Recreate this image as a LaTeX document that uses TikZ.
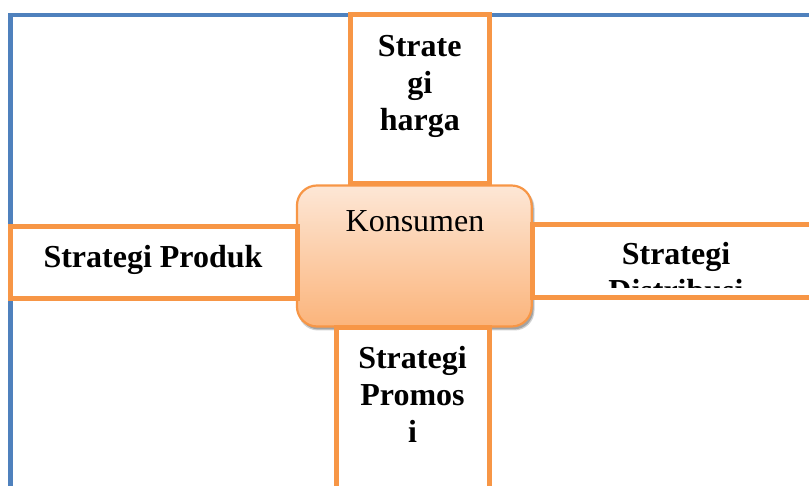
\documentclass[tikz,border=0pt]{standalone}
\usepackage{fontspec}
\setmainfont{Liberation Serif}
\definecolor{frameblue}{HTML}{4F81BD}
\definecolor{accorange}{HTML}{F79646}
\definecolor{ktop}{HTML}{FDE7D6}
\definecolor{kbottom}{HTML}{FBB47B}
\begin{document}
\begin{tikzpicture}[x=1pt,y=-1pt,
  frameline/.style={draw=frameblue, line width=4.5pt, line join=miter},
  stratbox/.style={draw=accorange, fill=white, line width=5pt, rectangle, inner sep=0pt},
  centerbox/.style={draw=accorange, line width=2.2pt, rectangle, rounded corners=20pt,
    top color=ktop, bottom color=kbottom, inner sep=0pt,
    minimum width=234.7pt, minimum height=141pt},
  strattext/.style={anchor=base, inner sep=0pt, font=\fontsize{32}{37}\selectfont\bfseries},
  centertext/.style={anchor=base, inner sep=0pt, font=\fontsize{32}{37}\selectfont},
]
\useasboundingbox (0,0) rectangle (809,486);
\clip (0,0) rectangle (809,486);

% outer frame (only its top and left sides fall inside the picture)
\draw[frameline] (10.5,520) -- (10.5,15) -- (840,15);

% soft shadow under the central box
\fill[black, opacity=.18, rounded corners=20pt] (298,188) rectangle (534.5,330.5);
\fill[black, opacity=.22, rounded corners=20pt] (299,188) rectangle (533.5,329.5);

% central box
\node[centerbox] (konsumen) at (414.3,256) {};
\node[centertext] (konsumenText) at (415,232) {Konsumen};

% four strategy boxes
\node[stratbox, minimum width=138.5pt, minimum height=169pt] (harga) at (419.75,99.5) {};
\node[stratbox, minimum width=287pt, minimum height=72.3pt] (produk) at (154,262.85) {};
\node[stratbox, minimum width=286.5pt, minimum height=73.2pt] (distribusi) at (675.75,260.9) {};
\node[stratbox, minimum width=153pt, minimum height=172.5pt] (promosi) at (412.5,413.75) {};

% box texts
\node[strattext] (hargaText) at (419.75,57) {\begin{tabular}[t]{@{}c@{}}Strate\\gi\\harga\end{tabular}};
\node[strattext] (produkText) at (153,268) {Strategi Produk};
\begin{scope}
  \clip (536,228) rectangle (816,288);
  \node[strattext] (distribusiText) at (676,265) {\begin{tabular}[t]{@{}c@{}}Strategi\\Distribusi\end{tabular}};
\end{scope}
\node[strattext] (promosiText) at (412.5,369) {\begin{tabular}[t]{@{}c@{}}Strategi\\Promos\\i\end{tabular}};
\end{tikzpicture}
\end{document}
